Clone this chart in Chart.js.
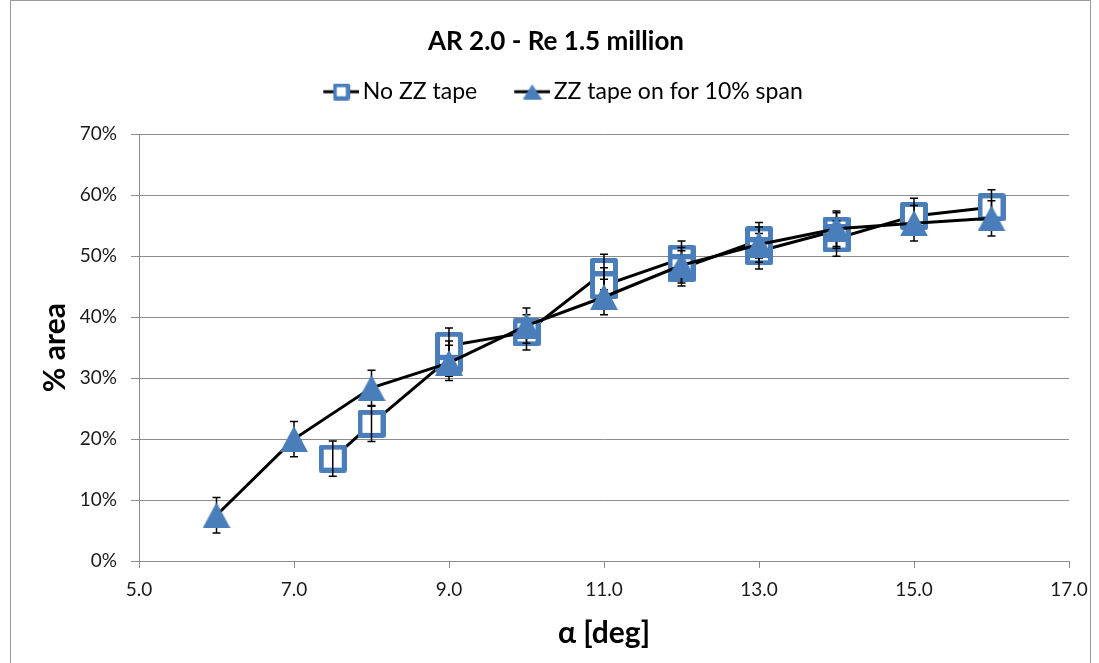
<!DOCTYPE html>
<html>
<head>
<meta charset="utf-8">
<script src="https://cdn.jsdelivr.net/npm/chart.js@4.4.1/dist/chart.umd.min.js"></script>
<style>
  html, body { margin: 0; padding: 0; background: #fff; }
  #chart { display: block; }
</style>
</head>
<body>
<canvas id="chart" width="1099" height="663"></canvas>
<script>
// "No ZZ tape" - repeat runs at some angles, kept in the order the line joins them
const noTapeAlpha = [7.5, 8, 9, 9, 10, 11, 11, 12, 12, 13, 13, 14, 14, 15, 16];
const noTapeArea = [16.8, 22.5, 33.2, 35.3, 37.5, 47.4, 45.2, 49.6, 48.0, 52.6, 50.8, 54.2, 52.9, 56.6, 58.0];
const noTapeErr = [2.9, 2.9, 2.9, 2.9, 2.9, 2.9, 2.9, 2.9, 2.9, 2.9, 2.9, 2.9, 2.9, 2.9, 2.9];

// "ZZ tape on for 10% span"
const tapeAlpha = [6, 7, 8, 9, 10, 11, 12, 13, 14, 15, 16];
const tapeArea = [7.5, 20.0, 28.4, 32.5, 38.6, 43.3, 48.5, 51.9, 54.5, 55.4, 56.2];
const tapeErr = [2.9, 2.9, 2.9, 2.9, 2.9, 2.9, 2.9, 2.9, 2.9, 2.9, 2.9];

const xTicks = [5, 7, 9, 11, 13, 15, 17];
const yTicks = [0, 10, 20, 30, 40, 50, 60, 70];

const BLUE = '#4a7ebb';
const GRID = '#8c8c8c';
const FONT = 'Lato, "Open Sans", sans-serif';

// marker images
function squareMarker(size, lw) {
  const c = document.createElement('canvas');
  c.width = size; c.height = size;
  const g = c.getContext('2d');
  g.fillStyle = '#fff';
  g.strokeStyle = BLUE;
  g.lineWidth = lw;
  g.lineJoin = 'round';
  g.beginPath();
  g.rect(lw / 2, lw / 2, size - lw, size - lw);
  g.fill();
  g.stroke();
  return c;
}

function triangleMarker(w, h) {
  const c = document.createElement('canvas');
  c.width = w; c.height = h;
  const g = c.getContext('2d');
  g.fillStyle = BLUE;
  g.beginPath();
  g.moveTo(w / 2, 0);
  g.lineTo(w, h);
  g.lineTo(0, h);
  g.closePath();
  g.fill();
  return c;
}

// legend swatch: short black line with the marker on it,
// drawn in the right part of the canvas so it sits close to its text
function legendSwatch(marker) {
  const c = document.createElement('canvas');
  c.width = 58; c.height = 24;
  const g = c.getContext('2d');
  g.strokeStyle = '#000';
  g.lineWidth = 3;
  g.beginPath();
  g.moveTo(22, 12);
  g.lineTo(58, 12);
  g.stroke();
  g.drawImage(marker, 40 - marker.width / 2, 12 - marker.height / 2);
  return c;
}

const squareImg = squareMarker(28, 5);
const triangleImg = triangleMarker(28, 26);
const legendImgs = [legendSwatch(squareMarker(17, 4)), legendSwatch(triangleMarker(19, 15))];

function drawErrors(chart, index) {
  const ds = chart.data.datasets[index];
  const xs = chart.scales.x, ys = chart.scales.y;
  const ctx = chart.ctx;
  ctx.save();
  ctx.strokeStyle = '#000';
  ctx.lineWidth = 1.5;
  ds.data.forEach((p, j) => {
    const px = xs.getPixelForValue(p.x);
    const top = ys.getPixelForValue(p.y + ds.errors[j]);
    const bot = ys.getPixelForValue(p.y - ds.errors[j]);
    ctx.beginPath();
    ctx.moveTo(px, top); ctx.lineTo(px, bot);
    ctx.moveTo(px - 4, top); ctx.lineTo(px + 4, top);
    ctx.moveTo(px - 4, bot); ctx.lineTo(px + 4, bot);
    ctx.stroke();
  });
  ctx.restore();
}

const errorBars = {
  id: 'errorBars',
  beforeDatasetDraw(chart, args) {
    if (!chart.data.datasets[args.index].errOnTop) drawErrors(chart, args.index);
  },
  afterDatasetDraw(chart, args) {
    if (chart.data.datasets[args.index].errOnTop) drawErrors(chart, args.index);
  }
};

const frame = {
  id: 'frame',
  beforeDraw(chart) {
    const ctx = chart.ctx;
    ctx.save();
    ctx.fillStyle = '#fff';
    ctx.fillRect(0, 0, chart.width, chart.height);
    ctx.strokeStyle = '#9a9a9a';
    ctx.lineWidth = 1;
    ctx.strokeRect(10.5, 0.5, 1080, 700);
    ctx.restore();
  }
};

new Chart(document.getElementById('chart'), {
  type: 'line',
  data: {
    datasets: [
      {
        label: 'No ZZ tape',
        data: noTapeAlpha.map((a, i) => ({ x: a, y: noTapeArea[i] })),
        errors: noTapeErr,
        errOnTop: true,
        borderColor: '#000',
        borderWidth: 3,
        tension: 0,
        pointStyle: squareImg,
        pointRadius: 12,
        order: 2
      },
      {
        label: 'ZZ tape on for 10% span',
        data: tapeAlpha.map((a, i) => ({ x: a, y: tapeArea[i] })),
        errors: tapeErr,
        errOnTop: false,
        borderColor: '#000',
        borderWidth: 3,
        tension: 0,
        pointStyle: triangleImg,
        pointRadius: 12,
        order: 1
      }
    ]
  },
  options: {
    responsive: false,
    animation: false,
    layout: { padding: { left: 43, right: 30, top: 0, bottom: 0 } },
    plugins: {
      tooltip: { enabled: false },
      title: {
        display: true,
        text: 'AR 2.0 - Re 1.5 million',
        color: '#000',
        font: { family: FONT, size: 26, weight: 'bold' },
        padding: { top: 26, bottom: 0 }
      },
      subtitle: {
        // empty spacer between legend and plot
        display: true,
        text: '',
        weight: 500,
        font: { family: FONT, size: 10 },
        padding: { top: 0, bottom: 9 }
      },
      legend: {
        position: 'top',
        labels: {
          usePointStyle: true,
          pointStyleWidth: 42,
          padding: 23,
          color: '#000',
          font: { family: FONT, size: 23 },
          sort: (a, b) => a.datasetIndex - b.datasetIndex,
          generateLabels(chart) {
            const items = Chart.defaults.plugins.legend.labels.generateLabels(chart);
            items.forEach(it => { it.pointStyle = legendImgs[it.datasetIndex]; });
            return items;
          }
        }
      }
    },
    scales: {
      x: {
        type: 'linear',
        min: 5,
        max: 17,
        afterBuildTicks: s => { s.ticks = xTicks.map(v => ({ value: v })); },
        afterFit: s => { s.height = 102; },
        ticks: {
          callback: v => v.toFixed(1),
          color: '#1a1a1a',
          padding: 10,
          maxRotation: 0,
          font: { family: FONT, size: 19 }
        },
        grid: { drawOnChartArea: false, tickLength: 7, color: GRID },
        border: { color: GRID },
        title: {
          display: true,
          text: 'α [deg]',
          color: '#000',
          font: { family: FONT, size: 30, weight: 'bold' },
          padding: { top: 0, bottom: 12 }
        }
      },
      y: {
        min: 0,
        max: 70,
        afterBuildTicks: s => { s.ticks = yTicks.map(v => ({ value: v })); },
        afterFit: s => { s.width = 96; },
        ticks: {
          callback: v => v + '%',
          color: '#1a1a1a',
          padding: 14,
          font: { family: FONT, size: 19 }
        },
        grid: { color: GRID, tickLength: 8 },
        border: { color: GRID },
        title: {
          display: true,
          text: '% area',
          color: '#000',
          font: { family: FONT, size: 30, weight: 'bold', lineHeight: 0.8 },
          padding: { top: 0, bottom: 0 }
        }
      }
    }
  },
  plugins: [frame, errorBars]
});
</script>
</body>
</html>
